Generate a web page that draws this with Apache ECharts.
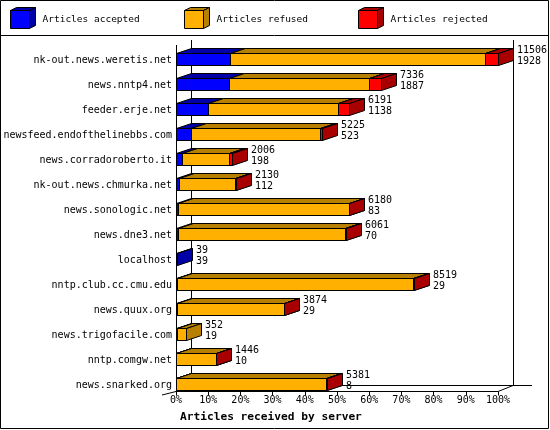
<!DOCTYPE html>
<html>
<head>
<meta charset="utf-8">
<script src="https://cdn.jsdelivr.net/npm/echarts@6/dist/echarts.min.js"></script>
<style>
html,body{margin:0;padding:0;background:#fff;}
#chart{width:550px;height:430px;}
</style>
</head>
<body>
<div id="chart"></div>
<script>
// ---- data ----
var categories = [
  'nk-out.news.weretis.net','news.nntp4.net','feeder.erje.net','newsfeed.endofthelinebbs.com',
  'news.corradoroberto.it','nk-out.news.chmurka.net','news.sonologic.net','news.dne3.net',
  'localhost','nntp.club.cc.cmu.edu','news.quux.org','news.trigofacile.com','nntp.comgw.net','news.snarked.org'
];
var accepted = [1928, 1887, 1138, 523, 198, 112, 83, 70, 39, 29, 29, 19, 10, 8];
var refused  = [9130, 5020, 4662, 4640, 1707, 2010, 6090, 5985, 0, 8450, 3835, 333, 1430, 5363];
var rejected = [448, 429, 391, 62, 101, 8, 7, 6, 0, 40, 10, 0, 6, 10];
var seriesNames = ['Articles accepted', 'Articles refused', 'Articles rejected'];
var frontColors = ['#0000ff', '#ffb000', '#ff0000'];
var darkColors  = ['#0000a8', '#b88000', '#a80000'];
var tickPercents = ['0%','10%','20%','30%','40%','50%','60%','70%','80%','90%','100%'];
var xTitle = 'Articles received by server';

// ---- derived ----
var totals = categories.map(function (c, i) { return accepted[i] + refused[i] + rejected[i]; });
var maxTotal = Math.max.apply(null, totals);
var segs = [accepted, refused, rejected];

var FONT = '"DejaVu Sans Mono", "Liberation Mono", monospace';
var GL = 176, GW = 322, GT = 47.5, GH = 350;
var DX = 15, DY = 5, BH = 12;

function segData(k) {
  return categories.map(function (c, i) {
    var s = 0;
    for (var j = 0; j < k; j++) s += segs[j][i];
    return [s, s + segs[k][i], i];
  });
}

function rnd(v) { return Math.round(v) + 0.5; }

function makeRender(k) {
  return function (params, api) {
    var a = api.value(0), b = api.value(1), cat = api.value(2);
    if (b - a <= 0) return null;
    var p0 = api.coord([a, cat]), p1 = api.coord([b, cat]);
    var x0 = rnd(p0[0]), x1 = rnd(p1[0]);
    var top = Math.round(p0[1]) - 7 + 0.5;
    var bot = top + BH;
    var st = { stroke: '#000', lineWidth: 1 };
    return {
      type: 'group',
      children: [
        { type: 'rect', shape: { x: x0, y: top, width: x1 - x0, height: BH },
          style: { fill: frontColors[k], stroke: '#000', lineWidth: 1 } },
        { type: 'polygon', shape: { points: [[x0, top], [x0 + DX, top - DY], [x1 + DX, top - DY], [x1, top]] },
          style: { fill: darkColors[k], stroke: '#000', lineWidth: 1 } },
        { type: 'polygon', shape: { points: [[x1, top], [x1 + DX, top - DY], [x1 + DX, bot - DY], [x1, bot]] },
          style: { fill: darkColors[k], stroke: '#000', lineWidth: 1 } }
      ]
    };
  };
}

var series = [0, 1, 2].map(function (k) {
  return {
    type: 'custom', name: seriesNames[k], data: segData(k),
    encode: { x: [0, 1], y: 2 }, renderItem: makeRender(k), silent: true
  };
});
series.push({
  type: 'custom', name: 'labels',
  data: categories.map(function (c, i) { return [totals[i], accepted[i], i]; }),
  encode: { x: 0, y: 2 },
  renderItem: function (params, api) {
    var p = api.coord([api.value(0), api.value(2)]);
    return {
      type: 'text',
      style: {
        text: api.value(0) + '\n' + api.value(1),
        x: Math.round(p[0]) + DX + 4, y: Math.round(p[1]) - 4,
        fill: '#000', font: '10px ' + FONT, lineHeight: 11,
        textAlign: 'left', textVerticalAlign: 'middle'
      }
    };
  },
  silent: true, z: 5
});

// legend + frame graphics
var graphics = [];
graphics.push({ type: 'rect', shape: { x: 0.5, y: 0.5, width: 548, height: 428 },
  style: { fill: null, stroke: '#000', lineWidth: 1 }, z: 100 });
graphics.push({ type: 'line', shape: { x1: 0, y1: 35.5, x2: 549, y2: 35.5 }, style: { stroke: '#000', lineWidth: 1 } });
seriesNames.forEach(function (n, k) {
  var x = 10.5 + 174 * k, y = 10.5, w = 19, h = 18, dx = 6, dy = 3;
  graphics.push({ type: 'polygon', shape: { points: [[x, y], [x + dx, y - dy], [x + w + dx, y - dy], [x + w, y]] },
    style: { fill: darkColors[k], stroke: '#000', lineWidth: 1 } });
  graphics.push({ type: 'polygon', shape: { points: [[x + w, y], [x + w + dx, y - dy], [x + w + dx, y + h - dy], [x + w, y + h]] },
    style: { fill: darkColors[k], stroke: '#000', lineWidth: 1 } });
  graphics.push({ type: 'rect', shape: { x: x, y: y, width: w, height: h },
    style: { fill: frontColors[k], stroke: '#000', lineWidth: 1 } });
  graphics.push({ type: 'text', style: { text: n, x: x + 32, y: 20, fill: '#000',
    font: '9.5px ' + FONT, textVerticalAlign: 'middle' } });
});
var frontY = 391.5, backY = frontY - 6;
var GR = GL + GW;
function ln(x1, y1, x2, y2) {
  graphics.push({ type: 'line', shape: { x1: x1, y1: y1, x2: x2, y2: y2 }, style: { stroke: '#000', lineWidth: 1 } });
}
ln(GL + 0.5, 45, GL + 0.5, frontY);
ln(GL + DX + 0.5, 40, GL + DX + 0.5, backY);
ln(GR + DX + 0.5, 40, GR + DX + 0.5, backY);
ln(GL + DX, backY, 532, backY);
ln(GR, frontY, GR + DX, backY);
ln(162, 395, GL, frontY);
graphics.push({ type: 'text', style: { text: xTitle, x: 180, y: 417, fill: '#000',
  font: 'bold 11.2px ' + FONT, textVerticalAlign: 'middle' } });

var chart = echarts.init(document.getElementById('chart'));
chart.setOption({
  animation: false,
  backgroundColor: '#fff',
  grid: { left: GL, top: GT, width: GW, height: GH },
  xAxis: {
    type: 'value', min: 0, max: maxTotal, interval: maxTotal / 10,
    offset: -6,
    axisLine: { show: true, lineStyle: { color: '#000', width: 1 } },
    axisTick: { show: true, length: 4, lineStyle: { color: '#000' } },
    splitLine: { show: false },
    axisLabel: {
      margin: 4, fontSize: 10, fontFamily: FONT, color: '#000',
      formatter: function (v) { return tickPercents[Math.round(v / maxTotal * 10)]; }
    }
  },
  yAxis: {
    type: 'category', data: categories, inverse: true,
    axisLine: { show: false }, axisTick: { show: false }, splitLine: { show: false },
    axisLabel: { margin: 4, fontSize: 10, fontFamily: FONT, color: '#000' }
  },
  graphic: graphics,
  series: series
});
</script>
</body>
</html>
